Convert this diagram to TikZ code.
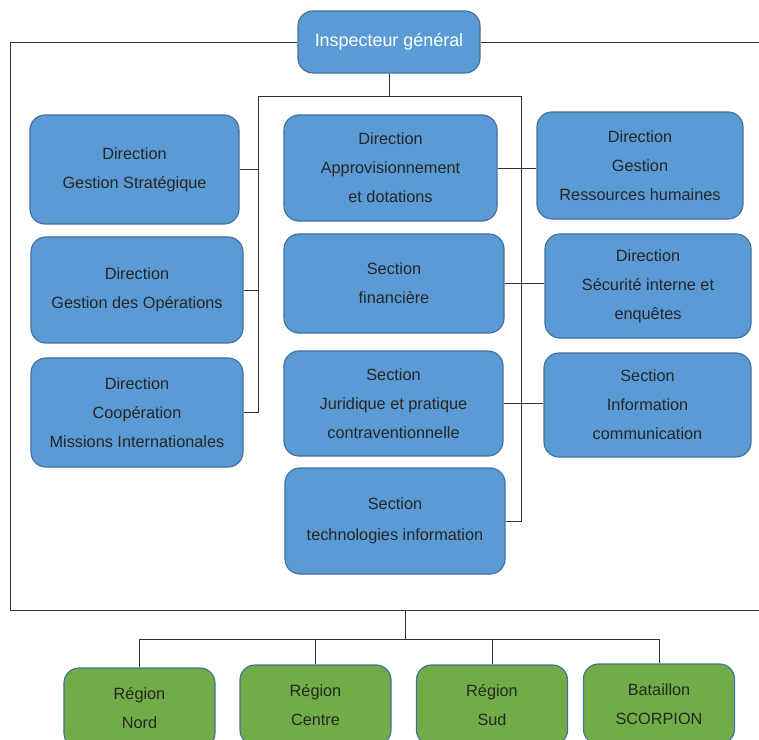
\documentclass[tikz,border=0pt]{standalone}
\usepackage{fontspec}
\setmainfont{Liberation Sans}
\definecolor{boxblue}{HTML}{5B9BD5}
\definecolor{boxline}{HTML}{41719C}
\definecolor{boxgreen}{HTML}{70AD47}
\tikzstyle{unit}=[draw=boxline,line width=1pt,rounded corners=0.45cm,align=center,text=black!85,inner sep=0pt,font={\fontsize{13.9}{24.7}\selectfont}]
\tikzstyle{dir}=[unit,fill=boxblue]
\tikzstyle{region}=[unit,fill=boxgreen,minimum width=4.53cm,minimum height=2.4cm]
\tikzstyle{link}=[line width=0.7pt,black!80]

\begin{document}
\begin{tikzpicture}[x=0.03cm,y=0.03cm]
    \useasboundingbox (0,0) rectangle (759,-740);
    \node[dir,minimum width=5.46cm,minimum height=1.86cm,text=white,font={\fontsize{15.3}{18}\selectfont}] (insp) at (389,-42) {Inspecteur général};
    \node[dir,minimum width=6.27cm,minimum height=3.27cm] (gs) at (134.5,-169.5) {Direction\\Gestion Stratégique};
    \node[dir,minimum width=6.36cm,minimum height=3.18cm] (gop) at (137,-290) {Direction\\Gestion des Opérations};
    \node[dir,minimum width=6.36cm,minimum height=3.27cm] (coop) at (137,-412.5) {Direction\\Coopération\\Missions Internationales};
    \node[dir,minimum width=6.39cm,minimum height=3.18cm] (appro) at (390.5,-168) {Direction\\Approvisionnement\\et dotations};
    \node[dir,minimum width=6.6cm,minimum height=2.97cm] (fin) at (394,-283.5) {Section\\financière};
    \node[dir,minimum width=6.57cm,minimum height=3.15cm] (jur) at (393.5,-403.5) {Section\\Juridique et pratique\\contraventionnelle};
    \node[dir,minimum width=6.6cm,minimum height=3.18cm,font={\fontsize{13.9}{26.5}\selectfont}] (tech) at (395,-521) {Section\\technologies information};
    \node[dir,minimum width=6.18cm,minimum height=3.21cm] (rh) at (640,-165.5) {Direction\\Gestion\\Ressources humaines};
    \node[dir,minimum width=6.18cm,minimum height=3.12cm] (secu) at (648,-286) {Direction\\Sécurité interne et\\enquêtes};
    \node[dir,minimum width=6.21cm,minimum height=3.12cm] (info) at (647.5,-405) {Section\\Information\\communication};
    \node[region] (nord) at (139.5,-708) {Région\\Nord};
    \node[region] (centre) at (315.5,-705) {Région\\Centre};
    \node[region] (sud) at (492,-705) {Région\\Sud};
    \node[region] (scorp) at (659,-704) {Bataillon\\SCORPION};
    \coordinate (lt) at (258,-96);
    \coordinate (rt) at (521,-96);
    \coordinate (re) at (759,-42);
    \coordinate (lb) at (10,-610);
    \coordinate (rb) at (759,-610);
    \coordinate (mb) at (405,-610);
    \coordinate (bus) at (405,-639);
    \draw[link] (insp.south) -- (insp.south |- lt);
    \draw[link] (lt) -- (rt);
    \draw[link] (lt) |- (coop.east);
    \draw[link] (gs.east) -- (gs.east -| lt);
    \draw[link] (gop.east) -- (gop.east -| lt);
    \draw[link] (rt) |- (tech.east);
    \draw[link] (appro.east) -- (appro.east -| rh.west);
    \draw[link] (fin.east) -- (fin.east -| secu.west);
    \draw[link] (jur.east) -- (jur.east -| info.west);
    \draw[link] (insp.east) -- (re);
    \draw[link] (insp.west) -| (lb) -- (rb);
    \draw[link] (mb) -- (bus);
    \draw[link] (nord.north |- bus) -- (scorp.north |- bus);
    \draw[link] (nord.north) -- (nord.north |- bus);
    \draw[link] (centre.north) -- (centre.north |- bus);
    \draw[link] (sud.north) -- (sud.north |- bus);
    \draw[link] (scorp.north) -- (scorp.north |- bus);
  \end{tikzpicture}
\end{document}
